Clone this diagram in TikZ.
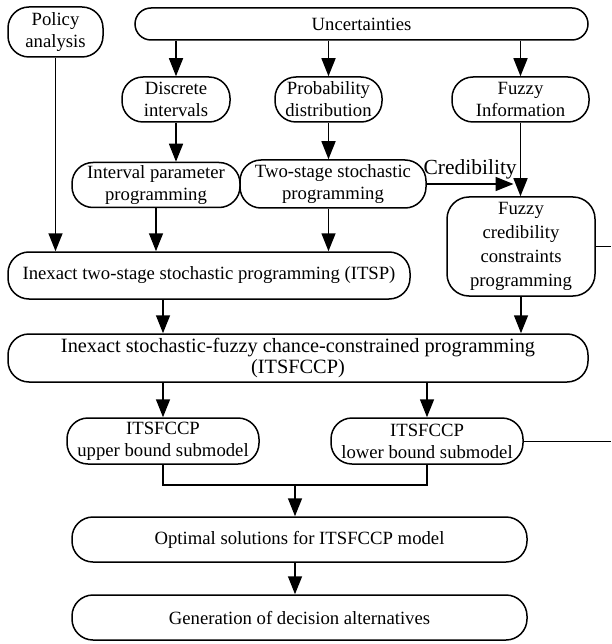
\documentclass[tikz,border=0pt]{standalone}
\usepackage{fontspec}
\setmainfont{Liberation Serif}
\usetikzlibrary{arrows.meta,calc}
\tikzset{
  box/.style={draw, line width=1.5pt, rounded corners=21pt, align=center, inner sep=0pt,
    font=\fontsize{18.7pt}{22pt}\selectfont},
  flow/.style={line width=1.5pt, -{Triangle[length=18pt,width=14pt]}},
  link/.style={line width=1.5pt},
  feed/.style={line width=0.8pt},
}
\begin{document}
\begin{tikzpicture}[x=1pt, y=-1pt]
\useasboundingbox (0,0) rectangle (611,644);
% top row
\node[box, minimum width=95pt, minimum height=50pt] (policy) at (55.5,32) {Policy\\analysis};
\node[box, rounded corners=16pt, minimum width=453pt, minimum height=32pt] (uncert) at (361.5,24) {Uncertainties};
\node[box, minimum width=108pt, minimum height=45pt] (discrete) at (176,99.5) {Discrete\\intervals};
\node[box, minimum width=107pt, minimum height=45pt] (prob) at (328.5,99.5) {Probability\\distribution};
\node[box, minimum width=137pt, minimum height=45pt] (fuzzyinfo) at (520.5,99.5) {Fuzzy\\Information};
% programming models
\node[box, minimum width=168pt, minimum height=45pt] (ipp) at (156,185) {Interval parameter\\programming};
\node[box, minimum width=186pt, minimum height=48pt] (tssp) at (333,184) {Two-stage stochastic\\programming};
\node[box, rounded corners=22pt, minimum width=148pt, minimum height=99pt,
  font=\fontsize{18.7pt}{24pt}\selectfont] (fccp) at (521,246.5) {Fuzzy\\credibility\\constraints\\programming};
\node[box, minimum width=402pt, minimum height=47pt] (itsp) at (209,275.5) {Inexact two-stage stochastic programming (ITSP)};
\node[box, minimum width=580pt, minimum height=48pt,
  font=\fontsize{20.3pt}{21pt}\selectfont] (itsfccp) at (298,358) {Inexact stochastic-fuzzy chance-constrained programming\\(ITSFCCP)};
% submodels and results
\node[box, minimum width=192pt, minimum height=46pt] (upper) at (163,441) {ITSFCCP\\upper bound submodel};
\node[box, minimum width=192pt, minimum height=46pt] (lower) at (427,441) {ITSFCCP\\lower bound submodel};
\node[box, minimum width=455pt, minimum height=45pt] (optimal) at (299.5,539.5) {Optimal solutions for ITSFCCP model};
\node[box, minimum width=455pt, minimum height=45pt] (generation) at (299.5,617.5) {Generation of decision alternatives};
\coordinate (rim) at (611,0);
\coordinate (credend) at ($(fuzzyinfo.south |- tssp.east)+(-7,0)$);
\coordinate (merge) at ($(upper.south)!0.5!(lower.south)+(0,20)$);
% connectors
\draw[flow] (uncert.south -| discrete.north) -- (discrete.north);
\draw[flow] (uncert.south -| prob.north) -- (prob.north);
\draw[flow] (uncert.south -| fuzzyinfo.north) -- (fuzzyinfo.north);
\draw[flow] (discrete.south) -- (discrete.south |- ipp.north);
\draw[flow] (prob.south) -- (prob.south |- tssp.north);
\draw[flow] (fuzzyinfo.south) -- (fuzzyinfo.south |- fccp.north);
\draw[flow] (tssp.east) -- (credend) node[midway, above=1pt, font=\fontsize{21.5pt}{24pt}\selectfont] {Credibility};
\draw[flow] (policy.south) -- (policy.south |- itsp.north);
\draw[flow] (ipp.south) -- (ipp.south |- itsp.north);
\draw[flow] (prob.south |- tssp.south) -- (prob.south |- itsp.north);
\draw[flow] (itsp.south -| upper.north) -- (itsfccp.north -| upper.north);
\draw[flow] (fccp.south) -- (fccp.south |- itsfccp.north);
\draw[flow] (itsfccp.south -| upper.north) -- (upper.north);
\draw[flow] (itsfccp.south -| lower.north) -- (lower.north);
\draw[link] (upper.south) |- (merge) -| (lower.south);
\draw[flow] (merge) -- (merge |- optimal.north);
\draw[flow] (optimal.south -| merge) -- (generation.north -| merge);
\draw[feed] (fccp.east) -- (fccp.east -| rim);
\draw[feed] (lower.east) -- (lower.east -| rim);
\end{tikzpicture}
\end{document}
